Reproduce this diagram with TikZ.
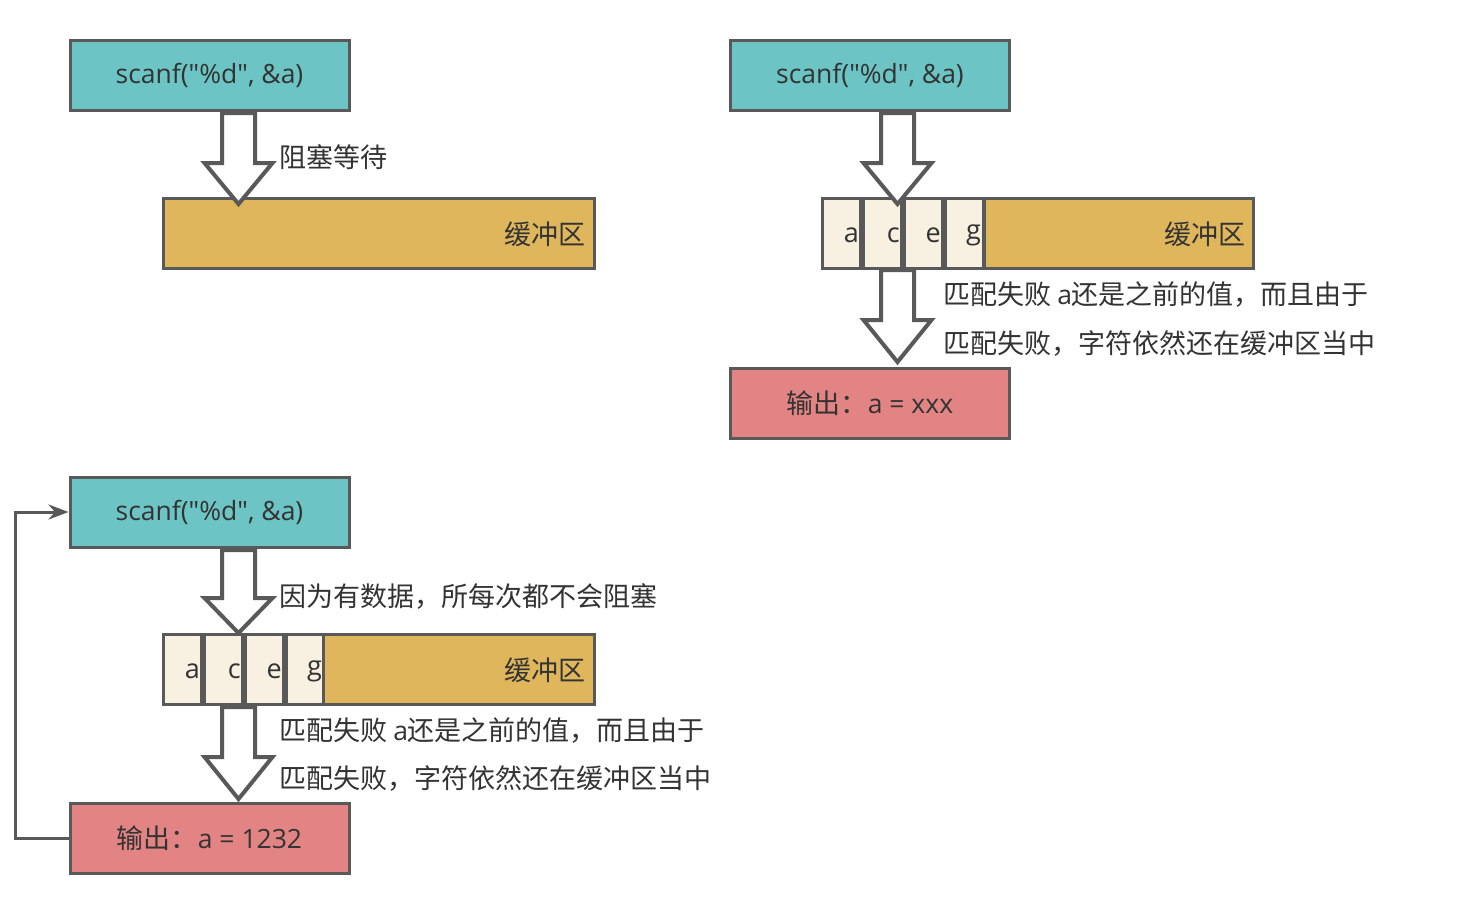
\documentclass[tikz,border=0pt]{standalone}
\usepackage{fontspec}
\setmainfont{Noto Sans CJK SC}
\newfontfamily\lat{Open Sans}
\newcommand{\latsz}{\lat\fontsize{26.5}{32}\selectfont}
\usetikzlibrary{arrows.meta}
\definecolor{bordc}{HTML}{595959}
\definecolor{tealc}{HTML}{6CC4C4}
\definecolor{goldc}{HTML}{DFB65B}
\definecolor{creamc}{HTML}{F8F0E0}
\definecolor{redc}{HTML}{E38484}
\definecolor{txtc}{HTML}{333333}
\newcommand{\barrow}[5]{% name, xc, ytop, yneck, ytip
  \draw[blockarr] (#2-16.5,#3) -- (#2+16.5,#3) -- (#2+16.5,#4) -- (#2+34,#4)
    -- (#2,#5) coordinate (#1) -- (#2-34,#4) -- (#2-16.5,#4) -- cycle;}
\begin{document}
\begin{tikzpicture}[x=1pt,y=-1pt,
  every node/.style={font=\fontsize{27}{32}\selectfont, text=txtc},
  box/.style={draw=bordc, line width=3pt, minimum width=279pt, minimum height=70pt, inner sep=0pt},
  scanbox/.style={box, fill=tealc, font=\latsz},
  outbox/.style={box, fill=redc},
  bufbox/.style={draw=bordc, line width=3pt, fill=goldc, minimum height=70pt, inner sep=0pt, anchor=west},
  cellbox/.style={draw=bordc, line width=3pt, fill=creamc, minimum width=38pt, minimum height=70pt, inner sep=0pt, anchor=west},
  lbl/.style={anchor=west, inner sep=0pt},
  ch/.style={anchor=east, inner sep=0pt, font=\lat\fontsize{27}{32}\selectfont},
  blockarr/.style={draw=bordc, line width=4pt, fill=white, line join=miter},
  loop/.style={draw=bordc, line width=3pt, -{Stealth[length=20pt,width=15pt]}}
]
\useasboundingbox[fill=white] (0,0) rectangle (1481,908);

% ---------- top left ----------
\node[scanbox] (s1) at (209.5,75) {scanf("\%d", \&a)};
\node[bufbox, minimum width=431pt] (b1) at (162,233) {};
\node[anchor=east, inner sep=0pt] (b1t) at (586,234) {缓冲区};
\barrow{a1}{238.5}{113}{163}{204}
\node[lbl] (l1) at (279,157) {阻塞等待};

% ---------- top right ----------
\node[scanbox] (s2) at (870,75) {scanf("\%d", \&a)};
\node[cellbox] (c21) at (821,233) {};
\node[ch] (t21) at (859,235) {a};
\node[cellbox] (c22) at (862,233) {};
\node[ch] (t22) at (900,235) {c};
\node[cellbox] (c23) at (903,233) {};
\node[ch] (t23) at (941,235) {e};
\node[cellbox] (c24) at (944,233) {};
\node[ch] (t24) at (981,235) {g};
\node[bufbox, minimum width=269pt] (b2) at (983,233) {};
\node[anchor=east, inner sep=0pt] (b2t) at (1246,234) {缓冲区};
\barrow{a2}{897.5}{113}{163}{204}
\barrow{a3}{897.5}{270}{320}{362}
\node[outbox] (o2) at (870,403) {输出：{\latsz a = xxx}};
\node[lbl] (m21) at (943,295) {匹配失败 {\latsz a}还是之前的值，而且由于};
\node[lbl] (m22) at (943,343) {匹配失败，字符依然还在缓冲区当中};

% ---------- bottom left ----------
\node[scanbox] (s3) at (209.5,512) {scanf("\%d", \&a)};
\node[cellbox] (c31) at (162,669) {};
\node[ch] (t31) at (200,671) {a};
\node[cellbox] (c32) at (203,669) {};
\node[ch] (t32) at (241,671) {c};
\node[cellbox] (c33) at (244,669) {};
\node[ch] (t33) at (282,671) {e};
\node[cellbox] (c34) at (285,669) {};
\node[ch] (t34) at (322,671) {g};
\node[bufbox, minimum width=271pt] (b3) at (322,669) {};
\node[anchor=east, inner sep=0pt] (b3t) at (586,670) {缓冲区};
\barrow{a4}{238.5}{550}{598}{633}
\barrow{a5}{238.5}{707}{757}{799}
\node[outbox] (o3) at (209.5,838) {输出：{\latsz a = 1232}};
\node[lbl] (l3) at (279,597) {因为有数据，所每次都不会阻塞};
\node[lbl] (m31) at (279,731) {匹配失败 {\latsz a}还是之前的值，而且由于};
\node[lbl] (m32) at (279,778) {匹配失败，字符依然还在缓冲区当中};

\coordinate (k1) at (15,838);
\coordinate (k2) at (15,512);
\draw[loop] (o3.west) -- (k1) -- (k2) -- (s3.west);
\end{tikzpicture}
\end{document}
